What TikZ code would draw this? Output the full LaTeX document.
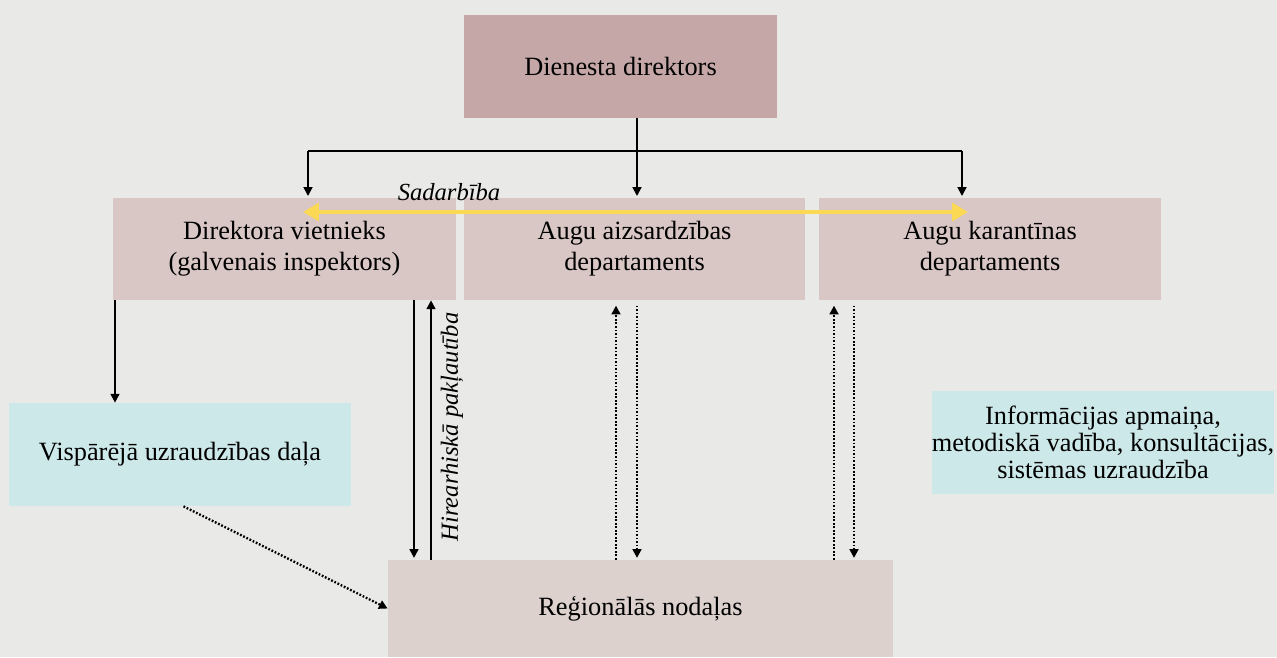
\documentclass[tikz,border=0pt]{standalone}
\usepackage{fontspec}
\setmainfont{Liberation Serif}
\usetikzlibrary{arrows.meta}
\definecolor{bgcol}{HTML}{E9E9E7}
\definecolor{topcol}{HTML}{C4A7A6}
\definecolor{depcol}{HTML}{D9C7C5}
\definecolor{tealcol}{HTML}{CDE8E8}
\definecolor{regcol}{HTML}{DCD1CD}
\definecolor{yel}{HTML}{FCD954}
\tikzset{
  box/.style={rectangle, inner sep=0pt, align=center, font=\fontsize{15}{17.5}\selectfont},
  arr/.style={line width=1.05pt, -{Triangle[length=5pt,width=5pt]}},
  darr/.style={line width=1.3pt, dash pattern=on 1pt off 1pt, -{Triangle[length=5pt,width=5pt]}},
  lbl/.style={font=\fontsize{14}{16}\selectfont\itshape, inner sep=0pt},
}
\begin{document}
\begin{tikzpicture}[x=0.02cm, y=-0.02cm]
\useasboundingbox (0,0) rectangle (1277,657);
\fill[bgcol] (0,0) rectangle (1277,657);
% boxes
\node[box, fill=topcol, minimum width=6.26cm, minimum height=2.06cm] (top) at (620.5,66.5) {Dienesta direktors};
\node[box, fill=depcol, minimum width=6.86cm, minimum height=2.04cm] (dep1) at (284.5,249) {Direktora vietnieks\\(galvenais inspektors)};
\node[box, fill=depcol, minimum width=6.82cm, minimum height=2.04cm] (dep2) at (634.5,249) {Augu aizsardzības\\departaments};
\node[box, fill=depcol, minimum width=6.84cm, minimum height=2.04cm] (dep3) at (990,249) {Augu karantīnas\\departaments};
\node[box, fill=tealcol, minimum width=6.84cm, minimum height=2.06cm] (visp) at (180,454.5) {Vispārējā uzraudzības daļa};
\node[box, fill=tealcol, minimum width=6.84cm, minimum height=2.06cm, font=\fontsize{15}{15.5}\selectfont] (info) at (1103,442.5) {Informācijas apmaiņa,\\metodiskā vadība, konsultācijas,\\sistēmas uzraudzība};
\node[box, fill=regcol, minimum width=10.1cm, minimum height=1.94cm] (reg) at (640.5,608.5) {Reģionālās nodaļas};
% tree coordinates
\coordinate (jc) at (637,151);
\coordinate (jl) at (308,151);
\coordinate (jr) at (962,151);
\coordinate (el) at (308,196);
\coordinate (ec) at (637,196);
\coordinate (er) at (962,196);
\draw[line width=1.05pt] (top.south -| jc) -- (jc);
\draw[line width=1.05pt] (jl) -- (jr);
\draw[arr] (jl) -- (el);
\draw[arr] (jc) -- (ec);
\draw[arr] (jr) -- (er);
% cooperation
\coordinate (yl) at (303,212);
\coordinate (yr) at (968,212);
\draw[yel, line width=2.4pt, {Triangle[length=9pt,width=10pt]}-{Triangle[length=9pt,width=10pt]}] (yl) -- (yr);
\node[lbl, anchor=base] (sad) at (449,200) {Sadarbība};
% left to visp
\coordinate (xv) at (115,0);
\draw[arr] (dep1.south -| xv) -- (visp.north -| xv);
% hierarchy
\coordinate (xh1) at (414,0);
\coordinate (xh2) at (431,0);
\draw[arr] (dep1.south -| xh1) -- ([yshift=1pt]reg.north -| xh1);
\draw[arr] (reg.north -| xh2) -- (dep1.south -| xh2);
\node[lbl, rotate=90] (hier) at (452,427) {Hirearhiskā pakļautība};
% dotted dep2
\coordinate (xd1) at (616,0);
\coordinate (xd2) at (637,0);
\draw[darr] (reg.north -| xd1) -- ([yshift=-3pt]dep2.south -| xd1);
\draw[darr] ([yshift=-3pt]dep2.south -| xd2) -- ([yshift=1pt]reg.north -| xd2);
% dotted dep3
\coordinate (xd3) at (834,0);
\coordinate (xd4) at (854,0);
\draw[darr] (reg.north -| xd3) -- ([yshift=-3pt]dep3.south -| xd3);
\draw[darr] ([yshift=-3pt]dep3.south -| xd4) -- ([yshift=1pt]reg.north -| xd4);
% visp to reg
\draw[darr] ([xshift=2pt]visp.south) -- (reg.west);
\end{tikzpicture}
\end{document}
